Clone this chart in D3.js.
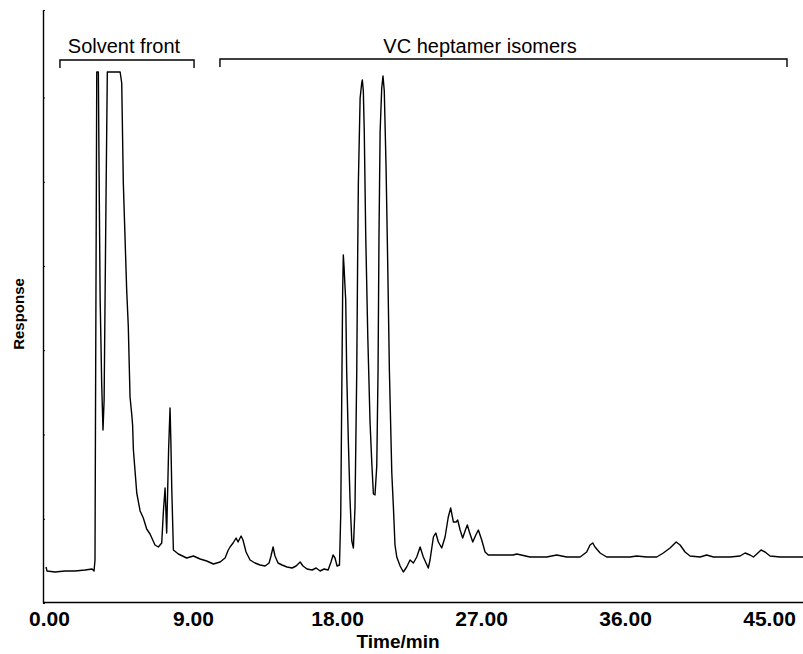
<!DOCTYPE html>
<html>
<head>
<meta charset="utf-8">
<script src="https://cdn.jsdelivr.net/npm/d3@7"></script>
<style>
  html, body { margin: 0; padding: 0; background: #fff; }
  svg { display: block; }
  text { font-family: "Liberation Sans", Arial, sans-serif; fill: #000; }
</style>
</head>
<body>
<svg id="chart" width="803" height="654"></svg>
<script>
// ---- Data ----
const timeMin = [
  0.00, 0.06, 0.56, 1.19, 1.81, 2.44, 2.88, 3.00, 3.06, 3.09,
  3.13, 3.17, 3.27, 3.31, 3.38, 3.48, 3.56, 3.63, 3.69, 3.75,
  3.83, 4.63, 4.73, 4.83, 5.04, 5.14, 5.25, 5.36, 5.41, 5.46,
  5.67, 5.88, 6.08, 6.29, 6.50, 6.81, 7.02, 7.23, 7.34, 7.44,
  7.54, 7.66, 7.75, 7.80, 7.86, 7.96, 8.27, 8.79, 9.21, 9.63,
  10.04, 10.46, 10.88, 11.19, 11.39, 11.50, 11.69, 11.88, 12.00, 12.19,
  12.31, 12.50, 12.75, 13.06, 13.38, 13.69, 13.94, 14.06, 14.19, 14.31,
  14.50, 14.75, 15.06, 15.38, 15.63, 15.88, 16.06, 16.31, 16.63, 16.88,
  17.13, 17.38, 17.63, 17.81, 17.94, 18.06, 18.19, 18.34, 18.42, 18.48,
  18.54, 18.58, 18.63, 18.67, 18.73, 18.79, 18.89, 19.00, 19.11, 19.21,
  19.31, 19.42, 19.47, 19.52, 19.63, 19.73, 19.77, 19.83, 19.89, 19.98,
  20.11, 20.25, 20.36, 20.46, 20.56, 20.67, 20.75, 20.81, 20.88, 20.98,
  21.06, 21.14, 21.25, 21.36, 21.46, 21.61, 21.71, 21.81, 21.92, 22.13,
  22.33, 22.54, 22.75, 22.96, 23.17, 23.38, 23.58, 23.89, 24.00, 24.21,
  24.36, 24.52, 24.73, 24.94, 25.14, 25.29, 25.46, 25.63, 25.73, 25.88,
  26.04, 26.21, 26.33, 26.46, 26.67, 26.86, 27.02, 27.23, 27.44, 27.64,
  28.38, 29.19, 29.42, 30.25, 31.29, 31.92, 32.54, 33.38, 33.79, 34.00,
  34.17, 34.31, 34.63, 35.04, 35.46, 36.50, 36.92, 37.54, 38.17, 38.58,
  39.00, 39.38, 39.63, 39.94, 40.25, 40.88, 41.29, 41.71, 42.75, 43.38,
  43.69, 44.00, 44.21, 44.42, 44.69, 44.94, 45.25, 45.88, 46.71, 47.31
];
const response = [
  7.2, 6.4, 6.2, 6.4, 6.4, 6.6, 6.8, 6.4, 8.6, 36.6,
  70.6, 106.2, 106.2, 88.2, 61.2, 43.6, 34.6, 40.6, 61.2, 81.4,
  106.2, 106.2, 104.0, 84.0, 62.6, 55.4, 41.2, 37.6, 35.6, 30.6,
  22.0, 18.4, 17.0, 14.8, 13.8, 11.6, 11.2, 12.0, 18.6, 23.0,
  14.0, 30.6, 39.0, 32.6, 22.6, 10.6, 9.8, 9.0, 9.4, 8.8,
  8.4, 7.8, 8.2, 9.0, 10.6, 11.2, 12.0, 13.0, 12.2, 13.4,
  12.6, 10.2, 8.6, 8.0, 7.6, 7.4, 8.0, 9.4, 11.2, 9.4,
  8.0, 7.6, 7.2, 7.0, 7.4, 8.2, 7.4, 6.8, 6.6, 7.0,
  6.4, 6.8, 6.6, 8.2, 9.6, 9.0, 7.4, 7.6, 17.8, 40.6,
  62.6, 69.6, 67.0, 64.2, 60.6, 46.4, 32.8, 20.6, 12.4, 11.0,
  19.2, 46.4, 66.8, 84.0, 101.0, 104.0, 104.6, 102.4, 94.2, 73.6,
  53.2, 36.2, 28.0, 21.8, 21.6, 27.4, 46.4, 73.6, 94.2, 103.0,
  105.4, 102.4, 87.4, 66.8, 46.4, 26.0, 19.2, 11.6, 9.2, 7.4,
  6.2, 7.2, 8.6, 8.0, 9.2, 11.2, 9.2, 7.0, 8.6, 13.2,
  14.0, 12.2, 11.0, 13.2, 17.2, 19.0, 16.2, 16.2, 16.6, 14.6,
  13.0, 14.6, 15.6, 14.2, 12.2, 13.6, 14.6, 12.6, 10.2, 9.6,
  9.6, 9.6, 9.8, 9.2, 9.2, 9.6, 9.2, 9.2, 10.2, 11.6,
  12.0, 11.2, 10.0, 9.2, 9.2, 9.2, 9.4, 9.2, 9.2, 10.0,
  11.0, 12.2, 11.6, 10.2, 9.4, 9.2, 9.6, 9.2, 9.2, 9.4,
  10.0, 9.6, 9.2, 9.8, 10.6, 10.2, 9.4, 9.2, 9.2, 9.2
];
const xTickValues = [0, 9, 18, 27, 36, 45];
const yTickValues = [0, 16.85, 33.7, 50.55, 67.4, 84.25, 101.1, 118.6];
const groupLabels = ["Solvent front", "VC heptamer isomers"];
const groupRanges = [[0.87, 9.25], [10.87, 46.31]];
const xTitle = "Time/min";
const yTitle = "Response";

// ---- Scales ----
const svg = d3.select("#chart");
const x = d3.scaleLinear().domain([-0.19, 47.31]).range([43, 803]);
const y = d3.scaleLinear().domain([0, 118.6]).range([603, 10]);

// ---- Axes ----
const xAxisG = svg.append("g")
  .attr("transform", `translate(0,${y(0) - 1})`)
  .call(d3.axisBottom(x).tickValues(xTickValues).tickSize(0).tickSizeOuter(0)
    .tickFormat(d3.format(".2f")));
xAxisG.select(".domain").attr("stroke", "#000").attr("stroke-width", 1.4);
xAxisG.selectAll("text")
  .attr("y", 24).attr("dy", 0).attr("dx", 3)
  .style("font-size", "21px").style("font-weight", "bold")
  .style("font-family", '"Liberation Sans", Arial, sans-serif');

const yAxisG = svg.append("g")
  .attr("transform", `translate(${x(-0.19)},0)`)
  .call(d3.axisRight(y).tickValues(yTickValues).tickSize(2).tickSizeOuter(0).tickFormat(""));
yAxisG.select(".domain").attr("stroke", "#000").attr("stroke-width", 1.4);
yAxisG.selectAll(".tick line").attr("stroke", "#000").attr("stroke-width", 1);

// ---- Trace ----
const pts = timeMin.map((t, i) => [t, response[i]]);
svg.append("path")
  .datum(pts)
  .attr("fill", "none")
  .attr("stroke", "#000")
  .attr("stroke-width", 1.4)
  .attr("stroke-linejoin", "round")
  .attr("d", d3.line().x(d => x(d[0])).y(d => y(d[1])));

// ---- Group brackets ----
const bracketY = [60, 59];
groupRanges.forEach((r, i) => {
  const x0 = x(r[0]), x1 = x(r[1]), by = bracketY[i];
  svg.append("path")
    .attr("d", `M${x0},${by + 8}V${by}H${x1}V${by + 8}`)
    .attr("fill", "none").attr("stroke", "#000").attr("stroke-width", 1.4);
  svg.append("text")
    .attr("x", i === 0 ? 124 : 480).attr("y", 53)
    .attr("text-anchor", "middle")
    .style("font-size", "20px")
    .text(groupLabels[i]);
});

// ---- Titles ----
svg.append("text")
  .attr("x", 398).attr("y", 648)
  .attr("text-anchor", "middle")
  .style("font-size", "19px").style("font-weight", "bold")
  .text(xTitle);

svg.append("text")
  .attr("transform", "translate(24,314) rotate(-90)")
  .attr("text-anchor", "middle")
  .style("font-size", "15px").style("font-weight", "bold")
  .text(yTitle);
</script>
</body>
</html>
